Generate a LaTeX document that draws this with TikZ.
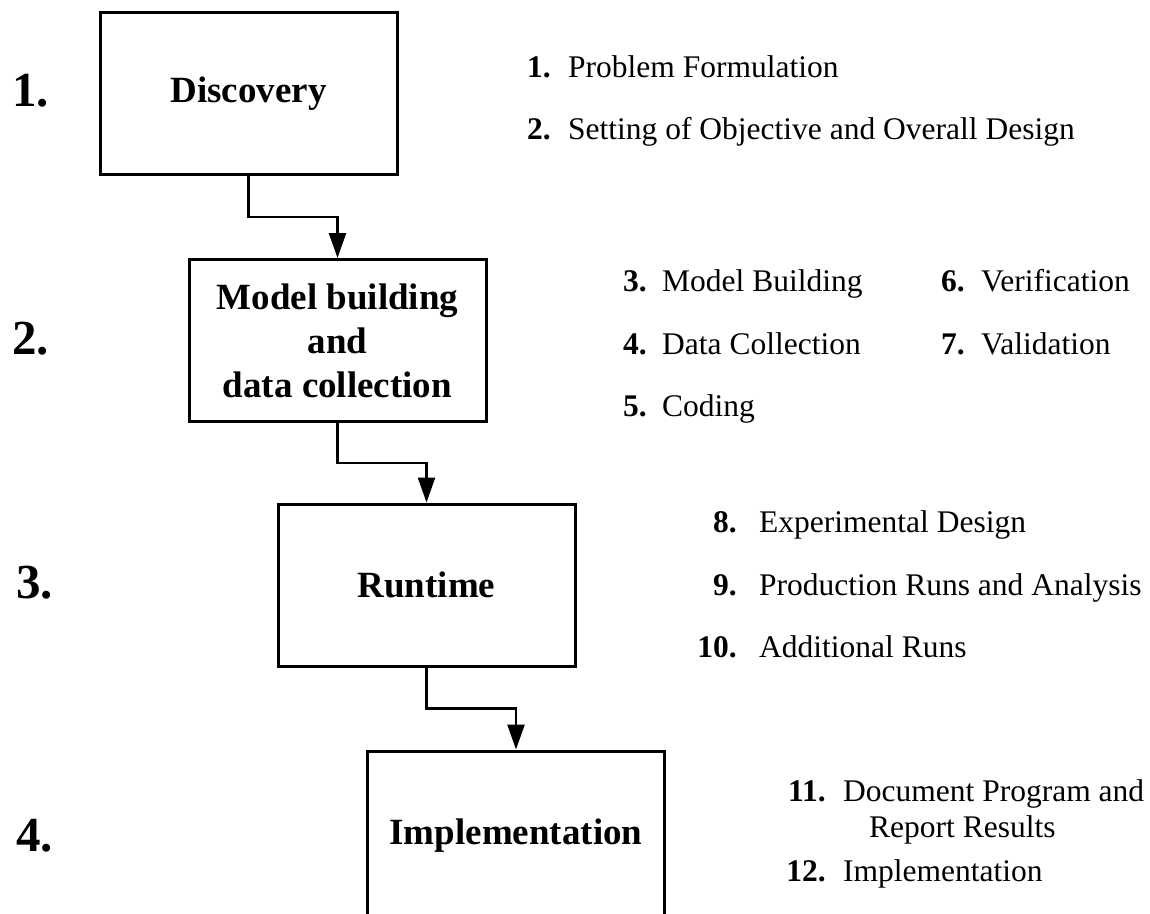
\documentclass[tikz,border=0pt]{standalone}
\usepackage{fontspec}
\setmainfont{Liberation Serif}
\usetikzlibrary{%
  arrows.meta,%
  calc%
}
\tikzset{>={Triangle[length=25pt,width=17pt]}}
\tikzset{
  phasebox/.style={draw,line width=3pt,minimum width=297pt,minimum height=162pt,
    inner sep=0pt,align=center,font=\fontsize{37}{44}\selectfont\bfseries},
  phasenum/.style={inner sep=0pt,anchor=west,font=\fontsize{49}{50}\selectfont\bfseries},
  listnum/.style={inner sep=0pt,anchor=base east,font=\fontsize{31.5}{36}\selectfont\bfseries},
  listtxt/.style={inner sep=0pt,anchor=base west,font=\fontsize{31.5}{36}\selectfont},
  flow/.style={->,line width=2.5pt}
}

\begin{document}
\begin{tikzpicture}[x=1pt,y=-1pt]
    \useasboundingbox (0,0) rectangle (1150,913);
    \clip (0,0) rectangle (1150,913);
    % phases
    \node[phasebox] (disc) at (248.5,93.5) {Discovery};
    \node[phasebox] (model) at (337.5,340.5) {Model building\\and\\data collection};
    \node[phasebox] (run) at (426.5,585) {Runtime};
    \node[phasebox,minimum height=170pt] (impl) at (516,836) {Implementation};
    \node[phasenum] (p1) at (12,91) {1.};
    \node[phasenum] (p2) at (12,339) {2.};
    \node[phasenum] (p3) at (16,583) {3.};
    \node[phasenum] (p4) at (16,836) {4.};
    % connectors
    \draw[flow] (disc.south) |- ($(disc.south)!.5!(model.north)$) -| (model.north);
    \draw[flow] (model.south) |- ($(model.south)!.5!(run.north)$) -| (run.north);
    \draw[flow] (run.south) |- ($(run.south)!.5!(impl.north)$) -| (impl.north);
    % steps of each phase
    \node[listnum] (n1) at (551,77) {1.};
    \node[listtxt] (i1) at (568,77) {Problem Formulation};
    \node[listnum] (n2) at (551,139) {2.};
    \node[listtxt] (i2) at (568,139) {Setting of Objective and Overall Design};
    \node[listnum] (n3) at (647,291) {3.};
    \node[listtxt] (i3) at (662,291) {Model Building};
    \node[listnum] (n4) at (647,354) {4.};
    \node[listtxt] (i4) at (662,354) {Data Collection};
    \node[listnum] (n5) at (647,416) {5.};
    \node[listtxt] (i5) at (662,416) {Coding};
    \node[listnum] (n6) at (965,291) {6.};
    \node[listtxt] (i6) at (981,291) {Verification};
    \node[listnum] (n7) at (965,354) {7.};
    \node[listtxt] (i7) at (981,354) {Validation};
    \node[listnum] (n8) at (737,532) {8.};
    \node[listtxt] (i8) at (759,532) {Experimental Design};
    \node[listnum] (n9) at (737,595) {9.};
    \node[listtxt] (i9) at (759,595) {Production Runs and Analysis};
    \node[listnum] (n10) at (737,657) {10.};
    \node[listtxt] (i10) at (759,657) {Additional Runs};
    \node[listnum] (n11) at (826,801) {11.};
    \node[listtxt] (i11) at (843,801) {Document Program and};
    \node[listtxt] (i11b) at (869,837) {Report Results};
    \node[listnum] (n12) at (826,881) {12.};
    \node[listtxt] (i12) at (843,881) {Implementation};
\end{tikzpicture}
\end{document}
